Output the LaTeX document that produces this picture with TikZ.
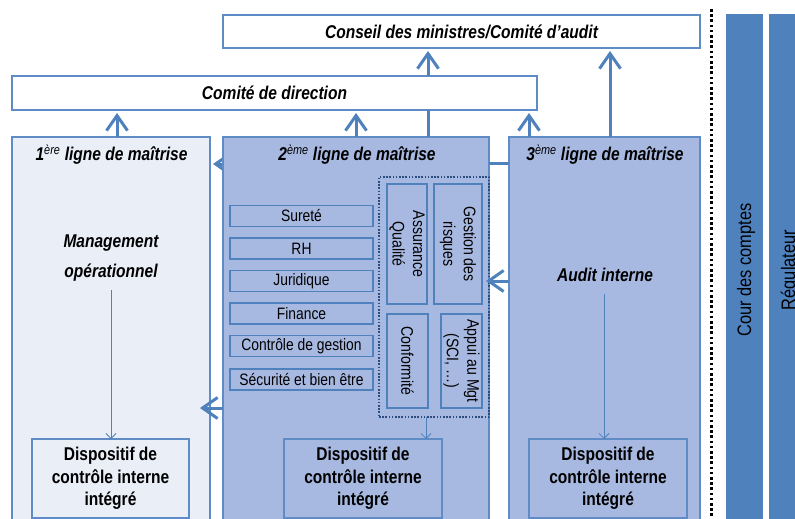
\documentclass[tikz,border=0pt]{standalone}
\usepackage{fontspec}
\setmainfont{Liberation Sans}[FakeStretch=0.84]
\usetikzlibrary{arrows.meta,calc}
\definecolor{accent}{HTML}{4F81BD}
\definecolor{boxline}{HTML}{5F8BC6}
\definecolor{lightfill}{HTML}{EAEEF7}
\definecolor{midfill}{HTML}{A8B9E1}
\definecolor{frameblue}{HTML}{2B4C7E}
\newcommand\hfont{\fontsize{18.5}{22}\selectfont\bfseries\itshape}
\newcommand\dfont{\fontsize{18.5}{22.7}\selectfont\bfseries}
\newcommand\lfont{\fontsize{16.5}{20}\selectfont}
\newcommand\vfont{\fontsize{16.8}{20.5}\selectfont}
\newcommand\cfont{\fontsize{19.5}{23}\selectfont}
\begin{document}
\begin{tikzpicture}[x=1pt,y=-1pt,
  box/.style={draw=boxline, line width=1.2pt, inner sep=0pt, outer sep=0pt},
  listbox/.style={box, draw=accent, minimum width=143pt, minimum height=21pt, font=\lfont},
  vbox/.style={box, draw=accent, align=center, font=\vfont},
  vtext/.style={rotate=-90, align=center, font=\vfont, inner sep=0pt},
  dispbox/.style={box, minimum width=157pt, minimum height=79pt, align=center, font=\dfont},
  heading/.style={font=\hfont, inner sep=0pt, align=center},
  bigarrow/.style={draw=accent, line width=3pt, -{Straight Barb[length=15pt,width=21pt]}},
  bigline/.style={draw=accent, line width=3pt},
  thinarrow/.style={draw=accent, line width=0.8pt, -{Straight Barb[length=5pt,width=10pt]}},
  column/.style={fill=accent, inner sep=0pt, outer sep=0pt},
]
\useasboundingbox (0,0) rectangle (795,519);
\fill[white] (0,0) rectangle (795,519);

% top boxes
\node[box, fill=white, minimum width=477pt, minimum height=33pt, font=\hfont] (conseil) at (461.5,31.5) {Conseil des ministres/Comité d’audit};
\node[box, fill=white, minimum width=525pt, minimum height=34pt, font=\hfont] (comite) at (274.5,93) {Comité de direction};

% three lines of control
\node[box, fill=lightfill, minimum width=198pt, minimum height=393pt] (L1) at (111,333.5) {};
\node[box, fill=midfill, minimum width=191pt, minimum height=393pt] (L3) at (604.5,333.5) {};

% helper coordinates
\coordinate (c164) at (0,164);
\coordinate (c163) at (0,163);
\coordinate (c408) at (0,408);
\coordinate (c281) at (0,281);
\coordinate (x117) at (117,0);
\coordinate (x356) at (356,0);
\coordinate (x428) at (428,0);
\coordinate (x529) at (529,0);
\coordinate (x610) at (610,0);

% arrow L2 -> L1 (partly hidden behind L2)
\draw[bigarrow] ($(L1.east |- c164)+(35,0)$) -- ($(L1.east |- c164)+(3,0)$);

\node[box, fill=midfill, minimum width=266pt, minimum height=393pt] (L2) at (356,333.5) {};

% titles
\node[heading] (t1) at (111.5,155) {1\textsuperscript{\mdseries ère} ligne de maîtrise};
\node[heading] (t2) at (357,155) {2\textsuperscript{\mdseries ème} ligne de maîtrise};
\node[heading] (t3) at (605,155) {3\textsuperscript{\mdseries ème} ligne de maîtrise};

% first line content
\node[heading] (mgmt) at (111,258) {Management\\[8pt]opérationnel};
\node[dispbox, fill=lightfill] (D1) at (110.5,478.5) {Dispositif de\\contrôle interne\\intégré};
\draw[thinarrow] ($(mgmt.south)+(0,9)$) -- (mgmt.south |- D1.north);

% second line content
\node[listbox] (s1) at (301.5,216) {Sureté};
\node[listbox] (s2) at (301.5,248.5) {RH};
\node[listbox] (s3) at (301.5,281) {Juridique};
\node[listbox] (s4) at (301.5,313.5) {Finance};
\node[listbox] (s5) at (301.5,346) {Contrôle de gestion};
\node[listbox] (s6) at (301.5,379.5) {Sécurité et bien être};

\node[draw=frameblue, line width=1.4pt, dash pattern=on 1.6pt off 1.6pt, minimum width=110pt, minimum height=240pt, inner sep=0pt, outer sep=0pt] (frame) at (434,297) {};
\node[vbox, minimum width=40pt, minimum height=120pt] (aq) at (407,244) {};
\node[vtext] at (aq.center) {Assurance\\Qualité};
\node[vbox, minimum width=48pt, minimum height=120pt] (gr) at (458,244) {};
\node[vtext] at (gr.center) {Gestion des\\risques};
\node[vbox, minimum width=41pt, minimum height=94pt] (cf) at (407.5,361) {};
\node[vtext] at (cf.center) {Conformité};
\node[vbox, minimum width=41pt, minimum height=94pt] (ap) at (461.5,361) {};
\node[vtext] at (ap.center) {Appui au Mgt\\(SCI, …)};

\node[dispbox, fill=midfill, minimum width=158pt] (D2) at (363,478.5) {Dispositif de\\contrôle interne\\intégré};
\draw[thinarrow] (frame.south -| D2.east) ++(-16,0) coordinate (f2) -- (f2 |- D2.north);

% third line content
\node[heading] (audit) at (605,275) {Audit interne};
\node[dispbox, fill=midfill, minimum width=158pt] (D3) at (608,478.5) {Dispositif de\\contrôle interne\\intégré};
\draw[thinarrow] ($(audit.south)+(-1,12)$) -- ($(audit.south |- D3.north)+(-1,0)$);

% connectors between lines
\draw[bigarrow] (L2.west |- c408) -- ($(L1.east |- c408)+(-10,0)$);
\draw[bigline] (L2.east |- c163) -- (L3.west |- c163);
\draw[bigarrow, shorten >=-3pt] (L3.west |- c281) -- (frame.east |- c281);

% upward arrows
\draw[bigarrow, shorten >=3pt] (L1.north -| x117) -- (comite.south -| x117);
\draw[bigarrow, shorten >=3pt] (L2.north -| x356) -- (comite.south -| x356);
\draw[bigline] (L2.north -| x428) -- (comite.south -| x428);
\draw[bigarrow, shorten >=3pt] (comite.north -| x428) -- (conseil.south -| x428);
\draw[bigarrow, shorten >=3pt] (L3.north -| x529) -- (comite.south -| x529);
\draw[bigarrow, shorten >=3pt] (L3.north -| x610) -- (conseil.south -| x610);

% separator
\draw[black, line width=3pt, dash pattern=on 2.6pt off 2.6pt] (711,9) -- (711,525);

% external bodies
\node[column, minimum width=37pt, minimum height=516pt, anchor=north] (cour) at (744.5,14) {};
\node[rotate=90, font=\cfont, inner sep=0pt] at (746,270) {Cour des comptes};
\node[column, minimum width=45pt, minimum height=516pt, anchor=north west] (reg) at (769,14) {};
\node[rotate=90, font=\cfont, inner sep=0pt] at (790,270) {Régulateur};
\end{tikzpicture}
\end{document}
